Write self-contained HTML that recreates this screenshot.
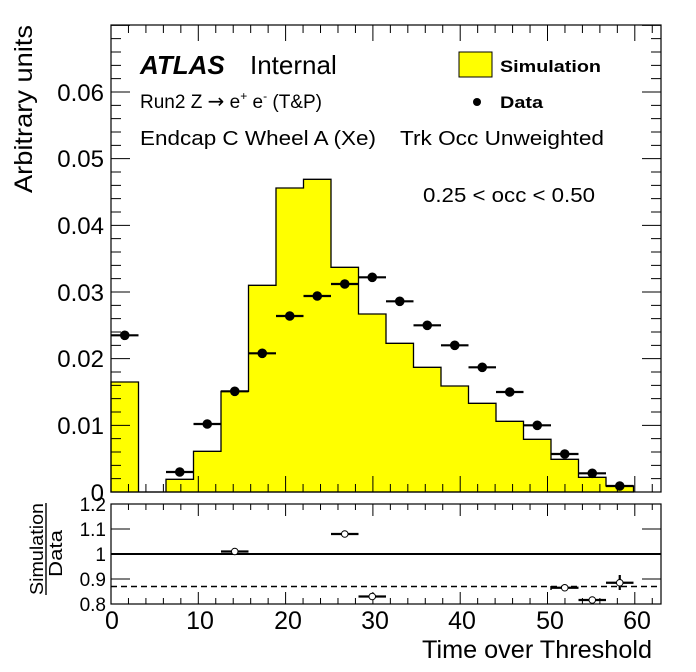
<!DOCTYPE html>
<html><head><meta charset="utf-8">
<style>
html,body{margin:0;padding:0;background:#fff;}
svg{display:block;font-family:"Liberation Sans",Arial,sans-serif;}
</style></head>
<body>
<svg id="s" width="696" height="672" viewBox="0 0 696 672" xmlns="http://www.w3.org/2000/svg">
<rect width="696" height="672" fill="#fff"/>
<path d="M111,492 V382 H138.5 V492 H166 V479.3 H193.5 V451.3 H221 V391.3 H248.5 V285.3 H276 V188 H303.5 V179.3 H331 V267.3 H358.5 V314 H386 V343.3 H413.5 V367.3 H441 V386 H468.5 V403.3 H496 V421.3 H523.5 V439.3 H551 V459.3 H578.5 V477.3 H606 V486 H633.5 V492 Z" fill="#ffff00" stroke="#000" stroke-width="1.3"/>
<g id="ticks" stroke="#000" stroke-width="1"></g>
<g stroke="#000" stroke-width="2.2" fill="#000">
<line x1="111" x2="138.5" y1="335.3" y2="335.3"/><circle cx="124.75" cy="335.3" r="3.7"/>
<line x1="166" x2="193.5" y1="472" y2="472"/><circle cx="179.75" cy="472" r="3.7"/>
<line x1="193.5" x2="221" y1="424" y2="424"/><circle cx="207.25" cy="424" r="3.7"/>
<line x1="221" x2="248.5" y1="391.3" y2="391.3"/><circle cx="234.75" cy="391.3" r="3.7"/>
<line x1="248.5" x2="276" y1="353.3" y2="353.3"/><circle cx="262.25" cy="353.3" r="3.7"/>
<line x1="276" x2="303.5" y1="316" y2="316"/><circle cx="289.75" cy="316" r="3.7"/>
<line x1="303.5" x2="331" y1="296" y2="296"/><circle cx="317.25" cy="296" r="3.7"/>
<line x1="331" x2="358.5" y1="284" y2="284"/><circle cx="344.75" cy="284" r="3.7"/>
<line x1="358.5" x2="386" y1="277.3" y2="277.3"/><circle cx="372.25" cy="277.3" r="3.7"/>
<line x1="386" x2="413.5" y1="301.3" y2="301.3"/><circle cx="399.75" cy="301.3" r="3.7"/>
<line x1="413.5" x2="441" y1="325.3" y2="325.3"/><circle cx="427.25" cy="325.3" r="3.7"/>
<line x1="441" x2="468.5" y1="345.3" y2="345.3"/><circle cx="454.75" cy="345.3" r="3.7"/>
<line x1="468.5" x2="496" y1="367.3" y2="367.3"/><circle cx="482.25" cy="367.3" r="3.7"/>
<line x1="496" x2="523.5" y1="392" y2="392"/><circle cx="509.75" cy="392" r="3.7"/>
<line x1="523.5" x2="551" y1="425.3" y2="425.3"/><circle cx="537.25" cy="425.3" r="3.7"/>
<line x1="551" x2="578.5" y1="454" y2="454"/><circle cx="564.75" cy="454" r="3.7"/>
<line x1="578.5" x2="606" y1="473.3" y2="473.3"/><circle cx="592.25" cy="473.3" r="3.7"/>
<line x1="606" x2="633.5" y1="486" y2="486"/><circle cx="619.75" cy="486" r="3.7"/>
</g>
<rect x="111" y="25" width="550" height="467" fill="none" stroke="#000" stroke-width="1.2"/>
<rect x="111" y="504" width="550" height="100" fill="none" stroke="#000" stroke-width="1.2"/>
<line x1="111" x2="661" y1="554" y2="554" stroke="#000" stroke-width="2"/>
<line x1="111" x2="661" y1="586.5" y2="586.5" stroke="#000" stroke-width="1.6" stroke-dasharray="6,4"/>
<g stroke="#000" stroke-width="2.2">
<line x1="221" x2="248.5" y1="551.5" y2="551.5"/>
<line x1="331" x2="358.5" y1="534" y2="534"/>
<line x1="358.5" x2="386" y1="596.5" y2="596.5"/>
<line x1="551" x2="578.5" y1="587.75" y2="587.75"/><line x1="551" x2="551" y1="586" y2="590" stroke-width="1.4"/>
<line x1="578.5" x2="606" y1="600" y2="600"/>
<line x1="606" x2="633.5" y1="582.75" y2="582.75"/><line x1="619.75" x2="619.75" y1="575" y2="590"/>
</g>
<g stroke="#000" stroke-width="1" fill="#fff">
<circle cx="234.75" cy="551.5" r="3.3"/><circle cx="344.75" cy="534" r="3.3"/><circle cx="372.25" cy="596.5" r="3.3"/>
<circle cx="564.75" cy="587.75" r="3.3"/><circle cx="592.25" cy="600" r="3.3"/><circle cx="619.75" cy="582.75" r="3.3"/>
</g>
<g font-size="24" text-anchor="end" fill="#000">
<text x="104" y="501">0</text>
<text x="104" y="434">0.01</text>
<text x="104" y="367">0.02</text>
<text x="104" y="301">0.03</text>
<text x="104" y="234">0.04</text>
<text x="104" y="167">0.05</text>
<text x="104" y="101">0.06</text>
</g>
<g font-size="19" text-anchor="end" fill="#000">
<text x="106" y="611">0.8</text>
<text x="106" y="586">0.9</text>
<text x="106" y="561">1</text>
<text x="106" y="536">1.1</text>
<text x="106" y="511">1.2</text>
</g>
<g font-size="25" text-anchor="middle" fill="#000">
<text x="112" y="629">0</text>
<text x="200" y="629">10</text>
<text x="288" y="629">20</text>
<text x="375" y="629">30</text>
<text x="462" y="629">40</text>
<text x="550" y="629">50</text>
<text x="637" y="629">60</text>
</g>
<text x="422" y="658" font-size="25" textLength="230" lengthAdjust="spacingAndGlyphs">Time over Threshold</text>
<text transform="translate(32,193) rotate(-90)" font-size="25" textLength="168" lengthAdjust="spacingAndGlyphs">Arbitrary units</text>
<text transform="translate(43,595) rotate(-90)" font-size="18" textLength="92" lengthAdjust="spacingAndGlyphs">Simulation</text>
<text transform="translate(62,577) rotate(-90)" font-size="18" textLength="47" lengthAdjust="spacingAndGlyphs">Data</text>
<line x1="46" x2="46" y1="503" y2="595" stroke="#000" stroke-width="1.4"/>
<text x="140" y="74" font-size="26" font-weight="bold" font-style="italic">ATLAS</text>
<text x="250" y="74" font-size="26">Internal</text>
<text x="140" y="108" font-size="19">Run2 Z <tspan font-family="DejaVu Sans" font-size="20">→</tspan> e<tspan font-size="12" dy="-8">+</tspan><tspan dy="8"> e</tspan><tspan font-size="12" dy="-8">-</tspan><tspan dy="8"> (T&amp;P)</tspan></text>
<text x="140" y="145" font-size="20" textLength="236" lengthAdjust="spacingAndGlyphs">Endcap C Wheel A (Xe)</text>
<text x="400" y="145" font-size="20" textLength="204" lengthAdjust="spacingAndGlyphs">Trk Occ Unweighted</text>
<text x="423" y="202" font-size="20" textLength="172" lengthAdjust="spacingAndGlyphs">0.25 &lt; occ &lt; 0.50</text>
<rect x="459" y="52" width="33" height="25" fill="#ffff00" stroke="#000" stroke-width="1"/>
<text x="500" y="72" font-size="17" font-weight="bold" textLength="101" lengthAdjust="spacingAndGlyphs">Simulation</text>
<circle cx="477" cy="102" r="4" fill="#000"/>
<text x="500" y="108" font-size="17" font-weight="bold" textLength="43" lengthAdjust="spacingAndGlyphs">Data</text>
</svg>
<script>
(function(){
var g=document.getElementById('ticks'),d='';
for(var j=0;j<=31;j++){var x=111+17.46*j;var maj=(j%5==0);
 var L=maj?16:8; d+='M'+x+',492v-'+L+'M'+x+',25v'+L;
 var l2=maj?12:6; d+='M'+x+',604v-'+l2+'M'+x+',504v'+l2;}
for(var k=0;k<=35;k++){var y=492-13.333*k; if(y<25)break; var maj=(k%5==0);var L=maj?19:10;
 d+='M111,'+y+'h'+L+'M661,'+y+'h-'+L;}
for(var m=0;m<=4;m++){var y=604-25*m; d+='M111,'+y+'h19M661,'+y+'h-19';}
var p=document.createElementNS('http://www.w3.org/2000/svg','path');p.setAttribute('d',d);p.setAttribute('fill','none');g.appendChild(p);
})();
</script>
</body></html>
